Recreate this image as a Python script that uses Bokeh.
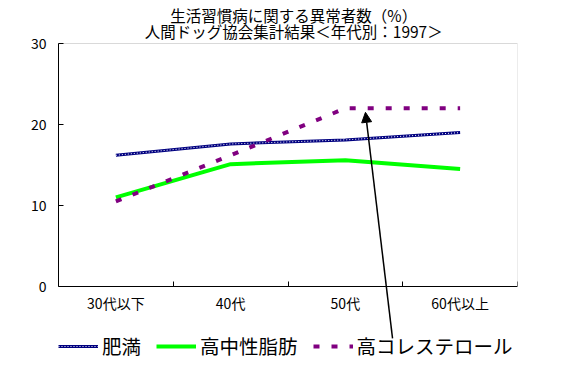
from bokeh.plotting import figure
from bokeh.models import (Range1d, FixedTicker, Legend, LegendItem, Arrow, Label,
                          NormalHead, ColumnDataSource, BoxAnnotation)
from bokeh.embed import file_html
from bokeh.resources import INLINE

FONT = "Noto Sans CJK JP"

title1 = "生活習慣病に関する異常者数（%）"
title2 = "人間ドッグ協会集計結果＜年代別：1997＞"
categories = ["30代以下", "40代", "50代", "60代以上"]
obesity = [16.2, 17.6, 18.1, 19.0]          # 肥満
triglyceride = [11.0, 15.1, 15.6, 14.5]     # 高中性脂肪
cholesterol = [10.5, 16.2, 22.0, 22.0]      # 高コレステロール
series_names = ["肥満", "高中性脂肪", "高コレステロール"]
y_ticks = [0, 10, 20, 30]
y_max = 30

xs = [i + 0.5 for i in range(len(categories))]

# the frame covers the full canvas height so that title, arrow and legend can be drawn
px_per_unit = (286 - 43) / y_max
y_min = -(375 - 286) / px_per_unit
y_top = y_max + 43 / px_per_unit

p = figure(width=562, height=375, output_backend="svg", toolbar_location=None,
           x_range=Range1d(0, len(categories)), y_range=Range1d(y_min, y_top),
           min_border_left=58, min_border_right=45, min_border_top=0, min_border_bottom=0)
p.xgrid.grid_line_color = None
p.ygrid.grid_line_color = None
p.outline_line_color = None
p.background_fill_color = "white"
p.border_fill_color = "white"

# plot-area border (gray top/right; black axes drawn over left/bottom)
p.add_layout(BoxAnnotation(left=0, right=len(categories), bottom=0, top=y_max,
                           fill_alpha=0, line_color="#808080", line_width=1, level="underlay"))

# axes
p.xaxis.fixed_location = 0
p.xaxis.ticker = FixedTicker(ticks=xs, minor_ticks=list(range(len(categories) + 1)))
p.xaxis.major_label_overrides = {x: c for x, c in zip(xs, categories)}
p.xaxis.major_tick_in = 0
p.xaxis.major_tick_out = 0
p.xaxis.minor_tick_in = 5
p.xaxis.minor_tick_out = 0
p.xaxis.minor_tick_line_color = "black"
p.xaxis.axis_line_color = "black"
p.xaxis.major_label_standoff = 6
p.xaxis.major_label_text_font = FONT
p.xaxis.major_label_text_font_size = "14px"
p.xaxis.major_label_text_color = "black"

p.yaxis.ticker = FixedTicker(ticks=y_ticks, minor_ticks=[])
p.yaxis.bounds = (0, y_max)
p.yaxis.major_tick_in = 5
p.yaxis.major_tick_out = 0
p.yaxis.major_tick_line_color = "black"
p.yaxis.axis_line_color = "black"
p.yaxis.major_label_standoff = 12
p.yaxis.major_label_text_font = FONT
p.yaxis.major_label_text_font_size = "14px"
p.yaxis.major_label_text_color = "black"

src = ColumnDataSource(dict(x=xs, ob=obesity, tg=triglyceride, ch=cholesterol))

r_ob1 = p.line("x", "ob", source=src, line_color="#000080", line_width=3)
r_ob2 = p.line("x", "ob", source=src, line_color="white", line_width=1, line_dash="1 2")
r_tg = p.line("x", "tg", source=src, line_color="#00FF00", line_width=4)
r_ch = p.line("x", "ch", source=src, line_color="#800080", line_width=4, line_dash="6 12")

# arrow annotation
p.add_layout(Arrow(end=NormalHead(size=10, fill_color="black", line_color="black"),
                   x_start=2.911, y_start=-6.4, x_end=2.675, y_end=21.5,
                   line_color="black", line_width=1.5))

# two-line title
for txt, yy in [(title1, y_max + 29 / px_per_unit), (title2, y_max + 13 / px_per_unit)]:
    p.add_layout(Label(x=2.05, y=yy, text=txt, text_align="center", text_baseline="middle",
                       text_font=FONT, text_font_size="15.5px", text_color="black"))

legend = Legend(items=[LegendItem(label=series_names[0], renderers=[r_ob1, r_ob2]),
                       LegendItem(label=series_names[1], renderers=[r_tg]),
                       LegendItem(label=series_names[2], renderers=[r_ch])],
                orientation="horizontal", location=(0, 15),
                glyph_width=40, glyph_height=20, label_standoff=4, spacing=15,
                padding=0, margin=0, border_line_color=None, background_fill_alpha=0,
                label_text_font=FONT, label_text_font_size="19.5px", label_text_color="black")
p.add_layout(legend, "center")

open("out.html", "w").write(file_html(p, INLINE))
